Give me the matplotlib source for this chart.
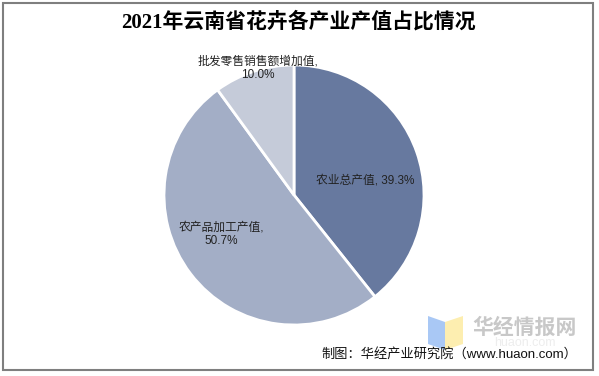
import matplotlib.pyplot as plt
from matplotlib.patches import Polygon, Rectangle

plt.rcParams['font.family'] = ['Liberation Sans', 'Noto Sans CJK SC']

# data
labels = ['农业总产值', '农产品加工产值', '批发零售销售额增加值']
shares = [39.3, 50.7, 10.0]
colors = ['#67799f', '#a3aec6', '#c5cbd9']

W, H = 599, 376
fig = plt.figure(figsize=(W / 100, H / 100), dpi=100)

# outer frame
fig.patches.append(Rectangle((3 / W, 6 / H), 590 / W, 367 / H, transform=fig.transFigure,
                             fill=False, edgecolor='#7f7f7f', linewidth=1.5))

fig.text(298 / W, 1 - 22 / H, '2021年云南省花卉各产业产值占比情况', ha='center', va='center',
         fontsize=15, fontweight='bold', family=['Liberation Serif', 'Noto Sans CJK SC'])

# pie axes: center (294,195), radius 130
cx, cy, r = 294, 195, 130
ax = fig.add_axes([(cx - r) / W, 1 - (cy + r) / H, 2 * r / W, 2 * r / H])
wedges, _ = ax.pie(shares, colors=colors, startangle=90, counterclock=False,
                   wedgeprops=dict(edgecolor='white', linewidth=2), radius=1)
ax.set_xlim(-1, 1)
ax.set_ylim(-1, 1)
ax.set_aspect('equal')
ax.axis('off')

lab_fs = 8.5
fig.text(365 / W, 1 - 180 / H, f'{labels[0]}, {shares[0]}%', ha='center', va='center', fontsize=lab_fs, color='#222222')
fig.text(221 / W, 1 - 234 / H, f'{labels[1]},\n{shares[1]}%', ha='center', va='center', fontsize=lab_fs,
         color='#222222', linespacing=1.2)
fig.text(258 / W, 1 - 68 / H, f'{labels[2]},\n{shares[2]}%', ha='center', va='center', fontsize=lab_fs,
         color='#222222', linespacing=1.2)

# watermark
blue = Polygon([(428 / W, 1 - 316 / H), (445 / W, 1 - 322 / H), (445 / W, 1 - 350 / H), (428 / W, 1 - 344 / H)],
               closed=True, transform=fig.transFigure, facecolor='#a9c8f5', edgecolor='none')
yellow = Polygon([(445 / W, 1 - 322 / H), (463 / W, 1 - 316 / H), (463 / W, 1 - 344 / H), (445 / W, 1 - 350 / H)],
                 closed=True, transform=fig.transFigure, facecolor='#fdeeb0', edgecolor='none')
fig.patches.extend([blue, yellow])
fig.text(525 / W, 1 - 327 / H, '华经情报网', ha='center', va='center', fontsize=15, fontweight='bold',
         color='#c8c8c8', family='Noto Sans CJK SC')
fig.text(525 / W, 1 - 343 / H, 'huaon.com', ha='center', va='center', fontsize=9,
         color='#ededed')

fig.text(577 / W, 1 - 354 / H, '制图：华经产业研究院（www.huaon.com）', ha='right', va='center',
         fontsize=9.5, color='#111111')

fig.savefig('out.png', dpi=100, facecolor='white')
